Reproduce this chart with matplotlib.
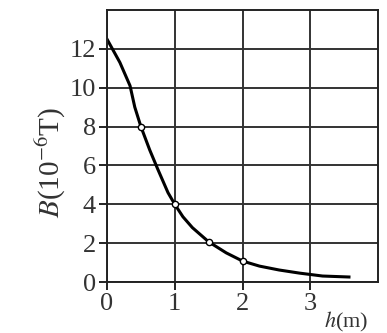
import numpy as np
import matplotlib.pyplot as plt

# values
h_curve = [0.0, 0.19, 0.34, 0.41, 0.5, 0.63, 0.75, 0.9, 1.0, 1.12, 1.26, 1.5,
           1.76, 2.0, 2.25, 2.54, 2.84, 3.18, 3.57]
B_curve = [12.5, 11.3, 10.1, 9.0, 8.0, 6.8, 5.8, 4.6, 4.0, 3.36, 2.8, 2.07,
           1.5, 1.08, 0.82, 0.62, 0.46, 0.31, 0.26]
h_pts = [0.5, 1.0, 1.5, 2.0]
B_pts = [8.0, 4.0, 2.07, 1.08]

x_ticks = [0, 1, 2, 3]
y_ticks = [0, 2, 4, 6, 8, 10, 12]

plt.rcParams['font.family'] = ['Liberation Serif', 'DejaVu Serif']
plt.rcParams['mathtext.fontset'] = 'stix'

fig = plt.figure(figsize=(3.87, 3.33), dpi=100)
ax = fig.add_axes([0.2765, 0.153, 0.7005, 0.817])

ax.set_xlim(0, 4)
ax.set_ylim(0, 14)
ax.set_xticks(x_ticks)
ax.set_yticks(y_ticks)
ax.grid(True, color='#333333', linewidth=1.4)
ax.set_axisbelow(True)

for s in ax.spines.values():
    s.set_color('#222222')
    s.set_linewidth(1.4)

ax.tick_params(direction='out', length=6, width=1.4, color='#222222',
               labelsize=19, pad=2, labelcolor='#333333')

ax.plot(h_curve, B_curve, color='black', linewidth=2.2, solid_joinstyle='round')
ax.plot(h_pts, B_pts, 'o', markersize=4.5, markerfacecolor='white',
        markeredgecolor='black', markeredgewidth=1.0)

ax.set_ylabel(r'$B$(10$^{-6}$T)', fontsize=21, color='#333333')
ax.yaxis.set_label_coords(-0.145, 0.44)
ax.text(3.2, -2.05, r'$h$(m)', fontsize=16, color='#333333', ha='left', va='center',
        clip_on=False)

plt.savefig('out.png', dpi=100)
